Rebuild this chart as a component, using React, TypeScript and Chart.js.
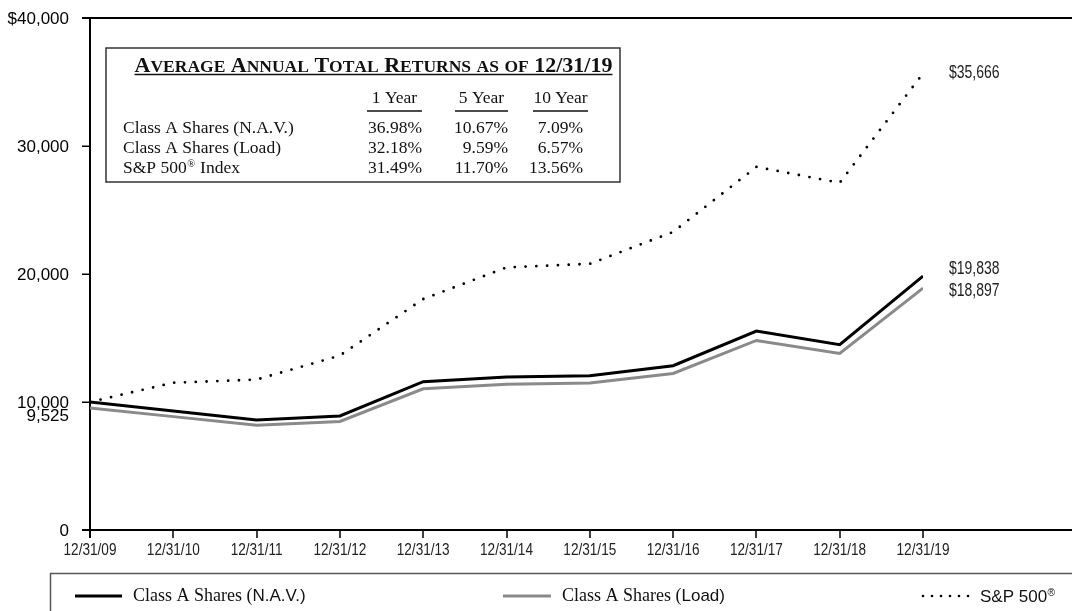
import React, { useEffect, useRef } from 'react';
import { Chart, registerables } from 'chart.js';

Chart.register(...registerables);

// ---- Data ----
const categories = ['12/31/09', '12/31/10', '12/31/11', '12/31/12', '12/31/13', '12/31/14', '12/31/15', '12/31/16', '12/31/17', '12/31/18', '12/31/19'];
const navValues = [10000, 9300, 8594, 8906, 11586, 11946, 12055, 12836, 15547, 14483, 19838];
const loadValues = [9525, 8858, 8186, 8483, 11036, 11379, 11482, 12226, 14809, 13795, 18897];
const spValues = [10000, 11506, 11749, 13629, 18043, 20513, 20796, 23283, 28366, 27124, 35666];

const yTickValues = [0, 10000, 20000, 30000, 40000];
const yTickLabels = ['0', '10,000', '20,000', '30,000', '$40,000'];
const initialLoadLabel = '9,525';
const endLabels = ['$19,838', '$18,897', '$35,666'];

const seriesNames = ['Class A Shares (N.A.V.)', 'Class A Shares (Load)', 'S&P 500® Index'];
const periodHeaders = ['1 Year', '5 Year', '10 Year'];
const oneYear = ['36.98%', '32.18%', '31.49%'];
const fiveYear = ['10.67%', '9.59%', '11.70%'];
const tenYear = ['7.09%', '6.57%', '13.56%'];
const tableTitle = 'Average Annual Total Returns as of 12/31/19';

const SANS = "'Liberation Sans', Arial, Helvetica, sans-serif";
const SERIF = "'Liberation Serif', 'Times New Roman', serif";

function narrowText(ctx: CanvasRenderingContext2D, text: string, x: number, y: number, size: number, align: 'left' | 'center' | 'right') {
  const sx = 0.8;
  ctx.save();
  ctx.font = `${size}px ${SANS}`;
  const w = ctx.measureText(text).width * sx;
  let left = x;
  if (align === 'center') left = x - w / 2;
  if (align === 'right') left = x - w;
  ctx.translate(left, y);
  ctx.scale(sx, 1);
  ctx.textAlign = 'left';
  ctx.textBaseline = 'middle';
  ctx.fillText(text, 0, 0);
  ctx.restore();
}

// draw text with ® superscript; returns end x
function drawWithReg(ctx: CanvasRenderingContext2D, text: string, x: number, y: number, font: (s: number) => string, size: number) {
  const parts = text.split('®');
  let cx = x;
  ctx.textAlign = 'left';
  ctx.textBaseline = 'alphabetic';
  parts.forEach((p, i) => {
    ctx.font = font(size);
    ctx.fillText(p, cx, y);
    cx += ctx.measureText(p).width;
    if (i < parts.length - 1) {
      ctx.font = font(size * 0.6);
      ctx.fillText('®', cx + 0.5, y - size * 0.35);
      cx += ctx.measureText('®').width + 1;
    }
  });
  return cx;
}

const overlayPlugin = {
  id: 'overlay',
  beforeDatasetsDraw(chart: any) {
    const ctx: CanvasRenderingContext2D = chart.ctx;
    const xs = chart.scales.x;
    const ys = chart.scales.y;
    const W = chart.width;
    const x0 = xs.getPixelForValue(0);
    const yTop = ys.getPixelForValue(40000);
    const yBot = ys.getPixelForValue(0);
    ctx.save();
    ctx.strokeStyle = '#000';
    ctx.lineWidth = 2;
    ctx.beginPath();
    ctx.moveTo(x0 - 8, yTop);
    ctx.lineTo(W, yTop);
    ctx.moveTo(x0 - 8, yBot);
    ctx.lineTo(W, yBot);
    ctx.moveTo(x0, yTop - 1);
    ctx.lineTo(x0, yBot + 8);
    ctx.stroke();
    ctx.lineWidth = 1.5;
    ctx.beginPath();
    [10000, 20000, 30000].forEach((v) => {
      const y = Math.round(ys.getPixelForValue(v)) + 0.25;
      ctx.moveTo(x0 - 8, y);
      ctx.lineTo(x0, y);
    });
    categories.forEach((_, i) => {
      const x = Math.round(xs.getPixelForValue(i));
      ctx.moveTo(x, yBot);
      ctx.lineTo(x, yBot + 8);
    });
    ctx.stroke();

    // y labels
    ctx.fillStyle = '#000';
    ctx.font = `17px ${SANS}`;
    ctx.textAlign = 'right';
    ctx.textBaseline = 'middle';
    yTickValues.forEach((v, i) => {
      ctx.fillText(yTickLabels[i], 69, ys.getPixelForValue(v) + 1);
    });
    ctx.fillText(initialLoadLabel, 69, ys.getPixelForValue(loadValues[0]) + 8);

    // x labels
    ctx.fillStyle = '#222';
    categories.forEach((c, i) => {
      narrowText(ctx, c, xs.getPixelForValue(i), yBot + 20, 17, 'center');
    });

    // end labels
    const last = categories.length - 1;
    const lx = xs.getPixelForValue(last) + 26;
    narrowText(ctx, endLabels[0], lx, ys.getPixelForValue(navValues[last]) - 7, 17.5, 'left');
    narrowText(ctx, endLabels[1], lx, ys.getPixelForValue(loadValues[last]) + 3, 17.5, 'left');
    narrowText(ctx, endLabels[2], lx, ys.getPixelForValue(spValues[last]), 17.5, 'left');

    // table box
    ctx.fillStyle = '#fff';
    ctx.fillRect(106, 48, 514, 134);
    ctx.strokeStyle = '#333';
    ctx.lineWidth = 1.5;
    ctx.strokeRect(106, 48, 514, 134);

    // title in small caps
    ctx.fillStyle = '#111';
    const big = 22, small = 17.5;
    const segs: { t: string; f: string }[] = [];
    for (const ch of tableTitle) {
      if (ch >= 'a' && ch <= 'z') segs.push({ t: ch.toUpperCase(), f: `bold ${small}px ${SERIF}` });
      else segs.push({ t: ch, f: `bold ${big}px ${SERIF}` });
    }
    let tw = 0;
    segs.forEach((s) => { ctx.font = s.f; tw += ctx.measureText(s.t).width; });
    let tx = 373.5 - tw / 2;
    const tStart = tx;
    ctx.textAlign = 'left';
    ctx.textBaseline = 'alphabetic';
    segs.forEach((s) => { ctx.font = s.f; ctx.fillText(s.t, tx, 72); tx += ctx.measureText(s.t).width; });
    ctx.strokeStyle = '#111';
    ctx.lineWidth = 1.5;
    ctx.beginPath();
    ctx.moveTo(tStart, 74.5);
    ctx.lineTo(tx, 74.5);
    ctx.stroke();

    // headers
    const colRight = [422, 508, 583];
    const colUnder = [[367, 422], [455, 508], [533, 588]];
    ctx.font = `17.5px ${SERIF}`;
    ctx.textAlign = 'center';
    periodHeaders.forEach((h, i) => {
      ctx.fillText(h, (colUnder[i][0] + colUnder[i][1]) / 2, 103);
    });
    ctx.lineWidth = 1.3;
    ctx.beginPath();
    colUnder.forEach(([a, b]) => { ctx.moveTo(a, 111); ctx.lineTo(b, 111); });
    ctx.stroke();

    const rowY = [133, 153, 173];
    seriesNames.forEach((n, r) => {
      drawWithReg(ctx, n, 123, rowY[r], (s) => `${s}px ${SERIF}`, 17.5);
      ctx.font = `17.5px ${SERIF}`;
      ctx.textAlign = 'right';
      ctx.fillText(oneYear[r], colRight[0], rowY[r]);
      ctx.fillText(fiveYear[r], colRight[1], rowY[r]);
      ctx.fillText(tenYear[r], colRight[2], rowY[r]);
    });

    // legend box
    ctx.strokeStyle = '#555';
    ctx.lineWidth = 1.5;
    ctx.strokeRect(50.5, 573.5, W, 100);
    const ly = 596;
    ctx.lineWidth = 3;
    ctx.strokeStyle = '#000';
    ctx.beginPath(); ctx.moveTo(75, ly); ctx.lineTo(122, ly); ctx.stroke();
    ctx.strokeStyle = '#8a8a8a';
    ctx.beginPath(); ctx.moveTo(503, ly); ctx.lineTo(551, ly); ctx.stroke();
    ctx.fillStyle = '#000';
    for (let k = 0; k < 6; k++) {
      ctx.beginPath();
      ctx.arc(923 + k * 9, ly, 1.3, 0, Math.PI * 2);
      ctx.fill();
    }
    const legendItem = (name: string, x: number) => {
      const idx = name.indexOf('(') + 1;
      const a = name.slice(0, idx);
      const b = name.slice(idx);
      ctx.textAlign = 'left';
      ctx.textBaseline = 'alphabetic';
      ctx.fillStyle = '#111';
      ctx.font = `18px ${SERIF}`;
      ctx.fillText(a, x, 601);
      const w = ctx.measureText(a).width;
      ctx.font = `17px ${SANS}`;
      ctx.fillText(b, x + w, 601);
    };
    legendItem(seriesNames[0], 133);
    legendItem(seriesNames[1], 562);
    drawWithReg(ctx, seriesNames[2].replace(' Index', ''), 980, 602, (s) => `${s}px ${SANS}`, 17);
    ctx.restore();
  },
};

export default function App() {
  const ref = useRef<HTMLCanvasElement | null>(null);
  useEffect(() => {
    if (!ref.current) return;
    const toPts = (arr: number[]) => arr.map((v, i) => ({ x: i, y: v }));
    const chart = new Chart(ref.current, {
      type: 'line',
      data: {
        datasets: [
          {
            label: seriesNames[2],
            data: toPts(spValues),
            borderColor: '#000',
            borderWidth: 2.8,
            borderDash: [0, 10.8],
            borderCapStyle: 'round',
            pointRadius: 0,
            tension: 0,
          },
          {
            label: seriesNames[1],
            data: toPts(loadValues),
            borderColor: '#8a8a8a',
            borderWidth: 3,
            pointRadius: 0,
            tension: 0,
          },
          {
            label: seriesNames[0],
            data: toPts(navValues),
            borderColor: '#000',
            borderWidth: 3,
            pointRadius: 0,
            tension: 0,
          },
        ],
      },
      options: {
        animation: false,
        responsive: false,
        layout: { padding: { left: 90, top: 18, right: 149, bottom: 81 } },
        plugins: { legend: { display: false }, tooltip: { enabled: false } },
        scales: {
          x: { type: 'linear', min: 0, max: categories.length - 1, display: false },
          y: { type: 'linear', min: 0, max: 40000, display: false },
        },
      },
      plugins: [overlayPlugin],
    } as any);
    return () => chart.destroy();
  }, []);
  return (
    <div style={{ position: 'absolute', left: 0, top: 0, width: 1072, height: 611, background: '#fff' }}>
      <canvas ref={ref} width={1072} height={611} style={{ width: 1072, height: 611 }} />
    </div>
  );
}
